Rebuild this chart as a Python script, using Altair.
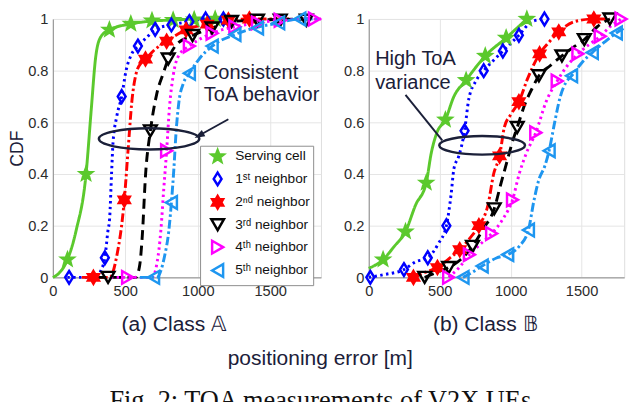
import math
import altair as alt
import pandas as pd

# ---------------- data ----------------
SERIES = ["Serving cell", "1ˢᵗ neighbor", "2ⁿᵈ neighbor", "3ʳᵈ neighbor",
          "4ᵗʰ neighbor", "5ᵗʰ neighbor"]
X_TICKS = [0, 500, 1000, 1500]
Y_TICKS = [0, 0.2, 0.4, 0.6, 0.8, 1]

# Panel (a) Class A : curve points (x, CDF) and marker points
A_SERV_CURVE = [(0, 0), (40, 0.015), (101, 0.069), (160, 0.18), (229, 0.40), (265, 0.65),
                (295, 0.85), (330, 0.93), (390, 0.958), (538, 0.981), (684, 0.992),
                (830, 0.996), (1000, 1.0), (1120, 1.0)]
A_SERV_MARKS = [(101, 0.069), (229, 0.40), (390, 0.958), (538, 0.981), (684, 0.994),
                (830, 0.996), (975, 0.998), (1120, 1.0)]
A_N1_CURVE = [(100, 0), (290, 0), (335, 0.03), (359, 0.076), (380, 0.18), (392, 0.23),
              (405, 0.40), (415, 0.52), (440, 0.62), (475, 0.70), (505, 0.80), (540, 0.86),
              (587, 0.895), (650, 0.93), (706, 0.96), (818, 0.977), (942, 0.99),
              (1054, 1.0), (1177, 1.0)]
A_N1_MARKS = [(112, 0), (359, 0.076), (475, 0.70), (587, 0.895), (706, 0.96), (818, 0.977),
              (942, 0.99), (1054, 1.0), (1177, 1.0)]
A_N2_CURVE = [(200, 0), (392, 0), (440, 0.08), (493, 0.30), (520, 0.50), (545, 0.68),
              (575, 0.79), (610, 0.83), (639, 0.845), (700, 0.88), (785, 0.914), (919, 0.958),
              (1065, 0.98), (1211, 0.996), (1400, 1.0), (1650, 1.0)]
A_N2_MARKS = [(280, 0), (493, 0.30), (639, 0.845), (785, 0.914), (919, 0.958), (1065, 0.98),
              (1211, 0.996), (1356, 1.0)]
A_N3_CURVE = [(300, 0), (572, 0), (600, 0.05), (617, 0.16), (640, 0.40), (673, 0.567),
              (717, 0.71), (762, 0.79), (796, 0.845), (852, 0.90), (964, 0.936), (1099, 0.965),
              (1233, 0.99), (1400, 0.995), (1800, 1.0)]
A_N3_MARKS = [(381, 0), (673, 0.567), (796, 0.845), (964, 0.936), (1099, 0.965), (1233, 0.99),
              (1412, 0.995), (1569, 0.995), (1749, 0.995)]
A_N4_CURVE = [(400, 0), (684, 0), (720, 0.06), (745, 0.18), (765, 0.34), (785, 0.49),
              (805, 0.66), (830, 0.78), (870, 0.86), (942, 0.895), (1099, 0.945),
              (1256, 0.97), (1412, 0.985), (1569, 0.995), (1850, 1.0)]
A_N4_MARKS = [(516, 0), (785, 0.49), (942, 0.895), (1099, 0.945), (1256, 0.97),
              (1412, 0.985), (1569, 0.995), (1805, 1.0)]
A_N5_CURVE = [(600, 0), (717, 0), (770, 0.08), (800, 0.18), (818, 0.29), (835, 0.42),
              (850, 0.56), (870, 0.68), (900, 0.75), (942, 0.79), (1009, 0.845), (1099, 0.895),
              (1256, 0.94), (1390, 0.965), (1558, 0.985), (1704, 1.0), (1850, 1.0)]
A_N5_MARKS = [(695, 0), (818, 0.29), (942, 0.79), (1099, 0.895), (1256, 0.94), (1412, 0.965),
              (1558, 0.985), (1704, 1.0)]

# Panel (b) Class B
B_SERV_CURVE = [(0, 0.035), (101, 0.069), (180, 0.12), (259, 0.177), (330, 0.28), (405, 0.366),
                (440, 0.48), (480, 0.56), (540, 0.61), (600, 0.70), (686, 0.763), (750, 0.81),
                (821, 0.857), (968, 0.927), (1114, 1.0)]
B_SERV_MARKS = [(101, 0.069), (259, 0.177), (405, 0.366), (540, 0.61), (686, 0.763),
                (821, 0.857), (968, 0.927), (1114, 1.0)]
B_N1_CURVE = [(0, 0), (100, 0.01), (248, 0.03), (330, 0.06), (416, 0.076), (490, 0.13),
              (547, 0.20), (580, 0.32), (600, 0.42), (635, 0.47), (675, 0.567), (705, 0.69),
              (755, 0.76), (810, 0.80), (880, 0.84), (945, 0.876), (1058, 0.937), (1150, 0.99),
              (1238, 1.0)]
B_N1_MARKS = [(11, 0), (248, 0.03), (416, 0.076), (547, 0.20), (675, 0.567), (810, 0.80),
              (945, 0.876), (1058, 0.937), (1238, 1.0)]
B_N2_CURVE = [(315, 0), (400, 0.02), (484, 0.038), (560, 0.07), (641, 0.107), (710, 0.15),
              (776, 0.20), (840, 0.28), (880, 0.40), (922, 0.47), (955, 0.58), (1000, 0.63),
              (1058, 0.68), (1120, 0.77), (1204, 0.865), (1270, 0.91), (1339, 0.95),
              (1450, 0.99), (1586, 1.0), (1700, 1.0)]
B_N2_MARKS = [(315, 0), (484, 0.038), (641, 0.107), (776, 0.20), (922, 0.47), (1058, 0.68),
              (1204, 0.865), (1339, 0.95), (1586, 1.0)]
B_N3_CURVE = [(394, 0), (480, 0.02), (563, 0.038), (650, 0.07), (731, 0.12), (810, 0.19),
              (884, 0.265), (930, 0.36), (970, 0.44), (1010, 0.52), (1046, 0.58), (1100, 0.67),
              (1150, 0.73), (1199, 0.78), (1280, 0.82), (1361, 0.857), (1440, 0.89),
              (1519, 0.92), (1610, 0.97), (1699, 1.0)]
B_N3_MARKS = [(394, 0), (563, 0.038), (731, 0.12), (884, 0.265), (1046, 0.58), (1199, 0.78),
              (1361, 0.857), (1519, 0.92), (1699, 1.0)]
B_N4_CURVE = [(563, 0), (640, 0.04), (709, 0.088), (790, 0.13), (866, 0.17), (950, 0.23),
              (1013, 0.30), (1060, 0.40), (1110, 0.48), (1177, 0.56), (1250, 0.68),
              (1328, 0.76), (1400, 0.82), (1474, 0.865), (1550, 0.90), (1631, 0.933),
              (1700, 0.97), (1778, 1.0)]
B_N4_MARKS = [(563, 0), (709, 0.088), (866, 0.17), (1013, 0.30), (1177, 0.56), (1328, 0.76),
              (1474, 0.865), (1631, 0.933), (1778, 1.0)]
B_N5_CURVE = [(664, 0), (730, 0.02), (799, 0.044), (900, 0.075), (979, 0.088), (1060, 0.12),
              (1125, 0.183), (1165, 0.30), (1200, 0.38), (1240, 0.43), (1271, 0.49),
              (1310, 0.60), (1350, 0.70), (1390, 0.755), (1429, 0.78), (1500, 0.83),
              (1575, 0.87), (1660, 0.91), (1744, 0.946), (1800, 0.965)]
B_N5_MARKS = [(664, 0), (799, 0.044), (979, 0.088), (1125, 0.183), (1271, 0.49),
              (1429, 0.78), (1575, 0.87), (1744, 0.946)]

# annotations (data units)
A_ELLIPSE_CENTER = [(664, 0.536)]
A_ARROW = [(1211, 0.612, 1009, 0.549)]
A_NOTE = [(1042, 0.789, "Consistent"), (1042, 0.706, "ToA behavior")]
B_ELLIPSE_CENTER = [(799, 0.511)]
B_POINTER = [(259, 0.706, 518, 0.53)]
B_NOTE = [(45, 0.845, "High ToA"), (45, 0.75, "variance")]

# ---------------- styles ----------------
COLORS = ["#5bc92d", "#0000ff", "#ff0000", "#000000", "#ff00ff", "#1e96f0"]
FILLS = ["#5bc92d", "transparent", "#ff0000", "transparent", "transparent", "transparent"]
DASHES = [[1, 0], [2.5, 3.5], [9, 3, 2.5, 3], [10, 6], [2.5, 3.5], [9, 3, 2.5, 3]]
NAVY = "#1b2039"
FONT = "Liberation Sans"


def star_path(n, r_in):
    pts = []
    for k in range(2 * n):
        ang = -math.pi / 2 + k * math.pi / n
        r = 1.0 if k % 2 == 0 else r_in
        pts.append(f"{r * math.cos(ang):.3f},{r * math.sin(ang):.3f}")
    return "M" + "L".join(pts) + "Z"


SHAPES = [star_path(5, 0.42), "M0,-1L0.62,0L0,1L-0.62,0Z", star_path(6, 0.58),
          "triangle-down", "triangle-right", "triangle-left"]


def ellipse_path(ratio):
    return f"M-1,0A1,{ratio},0,1,1,1,0A1,{ratio},0,1,1,-1,0Z"


def frame(lists):
    rows = []
    for name, pts in zip(SERIES, lists):
        for x, y in pts:
            rows.append({"series": name, "x": x, "y": y})
    return pd.DataFrame(rows)


def panel(curves, marks, xmax, width, x_title, title_x, y_title, legend,
          ell, ell_w, ell_ratio, rule, notes, arrow):
    x_axis = alt.Axis(values=X_TICKS, format="d", labelFlush=False, grid=True,
                      gridColor="#e4e4e4", domainColor="#8c8c8c", ticks=False,
                      labelFont=FONT, labelFontSize=15, labelColor="#2b2b2b", labelPadding=7,
                      title=x_title, titleFont=FONT, titleFontSize=21.5,
                      titleFontWeight="normal", titleColor=NAVY, titleX=title_x, titleY=49,
                      titleBaseline="middle", titleAlign="center")
    if y_title:
        y_axis = alt.Axis(values=Y_TICKS, format=".1~f", grid=True, gridColor="#e4e4e4",
                          domainColor="#8c8c8c", ticks=False, labelFont=FONT, labelFontSize=15,
                          labelColor="#2b2b2b", labelPadding=5, title=y_title, titleFont=FONT,
                          titleFontSize=18, titleFontWeight="normal", titleColor=NAVY,
                          titlePadding=1)
    else:
        y_axis = alt.Axis(values=Y_TICKS, format=".1~f", grid=True, gridColor="#e4e4e4",
                          domainColor="#8c8c8c", ticks=False, labelFont=FONT, labelFontSize=15,
                          labelColor="#2b2b2b", labelPadding=5, title=None)
    X = alt.X("x:Q", scale=alt.Scale(domain=[0, xmax], nice=False, zero=False), axis=x_axis)
    Y = alt.Y("y:Q", scale=alt.Scale(domain=[0, 1], nice=False, zero=False), axis=y_axis)

    layers = []
    for i, pts in enumerate(curves):
        df = pd.DataFrame(pts, columns=["x", "y"])
        ln = alt.Chart(df).mark_line(strokeWidth=3, interpolate="monotone", color=COLORS[i],
                                     strokeDash=DASHES[i])
        if i == 0:
            ln = ln.encode(x=X, y=Y)
        else:
            ln = ln.encode(x="x:Q", y="y:Q")
        layers.append(ln)

    if legend:
        leg = alt.Legend(title=None, orient="none", legendX=151, legendY=130, labelFont=FONT,
                         labelFontSize=14, labelColor="#111111", symbolSize=170,
                         symbolStrokeWidth=2.5, padding=3, rowPadding=0, symbolOffset=7,
                         labelOffset=10, strokeColor="#8c8c8c", fillColor="white")
        stroke = alt.Stroke("series:N", scale=alt.Scale(domain=SERIES, range=COLORS),
                            legend=leg)
        fill = alt.Fill("series:N", scale=alt.Scale(domain=SERIES, range=FILLS))
        shape = alt.Shape("series:N", scale=alt.Scale(domain=SERIES, range=SHAPES))
    else:
        stroke = alt.Stroke("series:N", scale=alt.Scale(domain=SERIES, range=COLORS),
                            legend=None)
        fill = alt.Fill("series:N", scale=alt.Scale(domain=SERIES, range=FILLS), legend=None)
        shape = alt.Shape("series:N", scale=alt.Scale(domain=SERIES, range=SHAPES),
                          legend=None)
    points = alt.Chart(frame(marks)).mark_point(size=170, strokeWidth=2.5, opacity=1).encode(
        x="x:Q", y="y:Q", stroke=stroke, fill=fill, shape=shape)
    layers.append(points)

    ell_df = pd.DataFrame(ell, columns=["x", "y"])
    layers.append(alt.Chart(ell_df).mark_point(shape=ellipse_path(ell_ratio), size=ell_w ** 2,
                                               stroke=NAVY, strokeWidth=2.5, filled=False,
                                               opacity=1).encode(x="x:Q", y="y:Q"))
    rule_df = pd.DataFrame(rule, columns=["x", "y", "x2", "y2"])
    layers.append(alt.Chart(rule_df).mark_rule(stroke=NAVY, strokeWidth=2).encode(
        x="x:Q", y="y:Q", x2="x2:Q", y2="y2:Q"))
    note_df = pd.DataFrame(notes, columns=["x", "y", "t"])
    layers.append(alt.Chart(note_df).mark_text(align="left", baseline="middle", font=FONT,
                                               fontSize=20.5, color=NAVY).encode(
        x="x:Q", y="y:Q", text="t:N"))
    if arrow:
        head_df = pd.DataFrame([(r[2], r[3]) for r in rule], columns=["x", "y"])
        layers.append(alt.Chart(head_df).mark_point(shape="M0,-1L0.7,1L-0.7,1Z", size=110,
                                                    angle=241, filled=True, color=NAVY,
                                                    opacity=1).encode(x="x:Q", y="y:Q"))
    return alt.layer(*layers).properties(width=width, height=265)


left = panel([A_SERV_CURVE, A_N1_CURVE, A_N2_CURVE, A_N3_CURVE, A_N4_CURVE, A_N5_CURVE],
             [A_SERV_MARKS, A_N1_MARKS, A_N2_MARKS, A_N3_MARKS, A_N4_MARKS, A_N5_MARKS],
             1850, 275, "(a) Class 𝔸", 124, "CDF", True,
             A_ELLIPSE_CENTER, 103, 0.21, A_ARROW, A_NOTE, True)
right = panel([B_SERV_CURVE, B_N1_CURVE, B_N2_CURVE, B_N3_CURVE, B_N4_CURVE, B_N5_CURVE],
              [B_SERV_MARKS, B_N1_MARKS, B_N2_MARKS, B_N3_MARKS, B_N4_MARKS, B_N5_MARKS],
              1800, 262, "(b) Class 𝔹", 119, "", False,
              B_ELLIPSE_CENTER, 88, 0.216, B_POINTER, B_NOTE, False)

chart = alt.hconcat(left, right, spacing=49, bounds="flush").resolve_scale(
    stroke="independent", fill="independent", shape="independent"
).properties(
    title=alt.TitleParams(text="positioning error [m]", orient="bottom", anchor="middle",
                          font=FONT, fontSize=21.5, fontWeight="normal", color=NAVY, offset=13,
                          subtitle="Fig. 2: TOA measurements of V2X UEs",
                          subtitleFont="Liberation Serif", subtitleFontSize=27,
                          subtitleColor="#111111", subtitlePadding=19),
    padding={"left": 0, "top": -7, "right": 0, "bottom": 0},
).configure_view(stroke=None).configure(background="white")

chart.save("out.html", embed_options={"renderer": "svg", "actions": False})
